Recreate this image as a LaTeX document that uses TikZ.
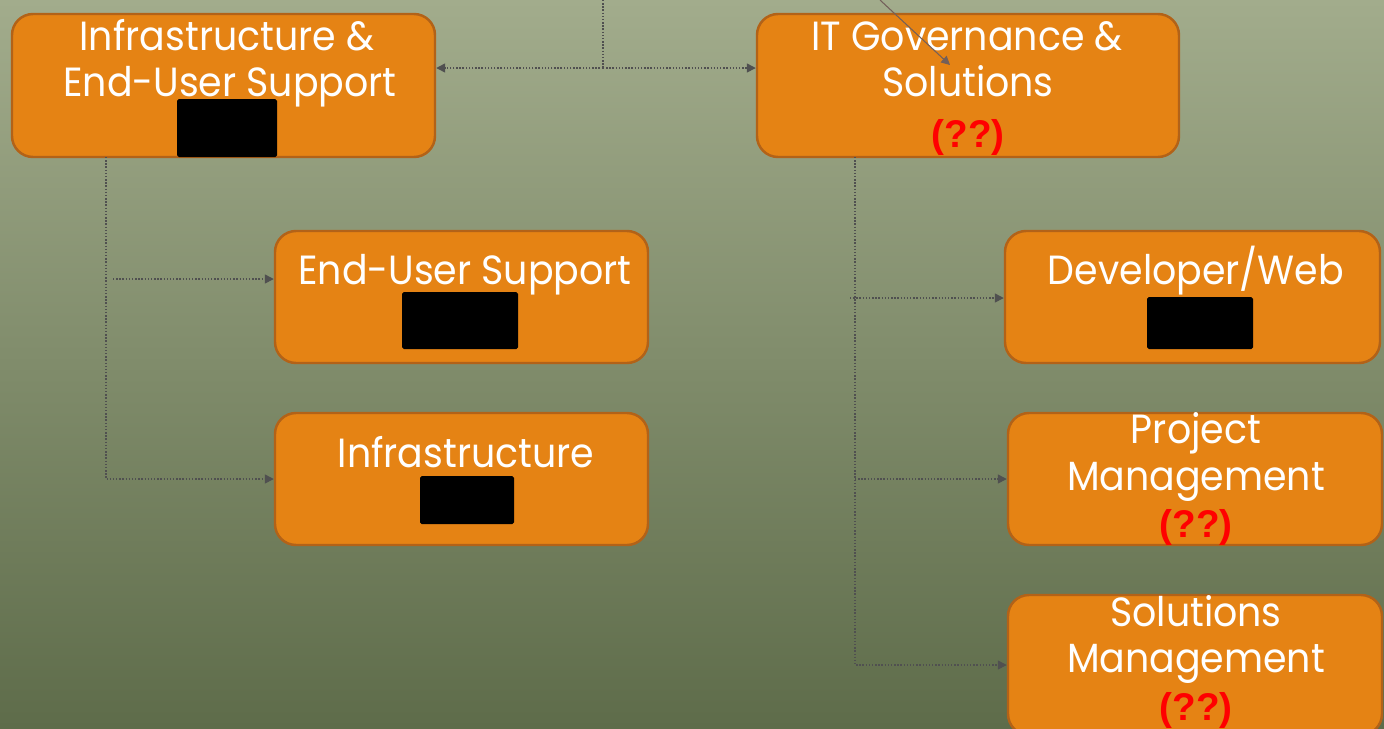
\documentclass[tikz,border=0pt]{standalone}
\usepackage{fontspec}
\setmainfont{Poppins}[FakeStretch=0.93]
\newfontfamily\redfont{Liberation Sans}
\usepackage{xcolor}
\usepackage{tikz}
\usetikzlibrary{positioning,arrows.meta}

\definecolor{bgtop}{RGB}{162,172,140}
\definecolor{bgbot}{RGB}{94,108,74}
\definecolor{boxfill}{RGB}{229,131,20}
\definecolor{boxedge}{RGB}{178,98,24}
\definecolor{linkgray}{RGB}{80,80,80}
\definecolor{diaggray}{RGB}{115,95,90}

\begin{document}
\begin{tikzpicture}[x=0.02cm, y=-0.02cm,
  orgbox/.style={draw=boxedge, fill=boxfill, line width=1.4pt, rounded corners=0.42cm, inner sep=0pt},
  hidebox/.style={fill=black, rounded corners=1pt, inner sep=0pt},
  title/.style={text=white, inner sep=0pt, anchor=base, font=\fontsize{23.2}{26}\selectfont},
  unknown/.style={text=red, inner sep=0pt, anchor=base, font=\redfont\bfseries\fontsize{22}{25}\selectfont},
  link/.style={draw=linkgray, line width=0.8pt, densely dotted, -{Triangle[length=5pt,width=5pt]}}]

\useasboundingbox (0,0) rectangle (1384,728);
\fill[top color=bgtop, bottom color=bgbot] (0,0) rectangle (1384,728);

% 
\node[orgbox, minimum width=423*0.02cm, minimum height=143*0.02cm] (iteus) at (223.5,85.5) {};
\node[orgbox, minimum width=422*0.02cm, minimum height=143*0.02cm] (itgov) at (968,85.5) {};
\node[orgbox, minimum width=373*0.02cm, minimum height=132*0.02cm] (eus) at (461.5,297) {};
\node[orgbox, minimum width=373*0.02cm, minimum height=132*0.02cm] (infra) at (461.5,479) {};
\node[orgbox, minimum width=375*0.02cm, minimum height=132*0.02cm] (dev) at (1192.5,297) {};
\node[orgbox, minimum width=374*0.02cm, minimum height=132*0.02cm] (pm) at (1195,479) {};
\node[orgbox, minimum width=374*0.02cm, minimum height=140*0.02cm] (solm) at (1195,665) {};

% 
\node[hidebox, minimum width=100*0.02cm, minimum height=58*0.02cm] (iteus-hide) at (227,128) {};
\node[hidebox, minimum width=116*0.02cm, minimum height=57*0.02cm] (eus-hide) at (460,320.5) {};
\node[hidebox, minimum width=94*0.02cm, minimum height=48*0.02cm] (infra-hide) at (467,500) {};
\node[hidebox, minimum width=106*0.02cm, minimum height=52*0.02cm] (dev-hide) at (1200,323) {};

% 
\node[title] (iteus-l1) at (227,50) {Infrastructure \&};
\node[title] (iteus-l2) at (230,96) {End-User Support};
\node[title] (itgov-l1) at (967,50) {IT Governance \&};
\node[title] (itgov-l2) at (968,96) {Solutions};
\node[unknown] (itgov-q) at (968,147) {(??)};
\node[title] (eus-l1) at (465,284) {End-User Support};
\node[title] (infra-l1) at (466,467) {Infrastructure};
\node[title] (dev-l1) at (1196,284) {Developer/Web};
\node[title] (pm-l1) at (1196,443) {Project};
\node[title] (pm-l2) at (1196,490) {Management};
\node[unknown] (pm-q) at (1196,537) {(??)};
\node[title] (solm-l1) at (1196,626) {Solutions};
\node[title] (solm-l2) at (1196,672) {Management};
\node[unknown] (solm-q) at (1196,720) {(??)};

% 
\coordinate (topin) at (603,0);
\coordinate (hub) at (603,68);
\coordinate (diagin) at (880,0);
\coordinate (diagtip) at (950,65);
\coordinate (ltop) at (106,157);
\coordinate (lbr) at (113,279);
\coordinate (rtop) at (855,157);
\coordinate (rbr) at (850,298);

% 
\draw[link, -] (topin) -- (hub);
\draw[link] (hub) -- (hub -| iteus.east);
\draw[link] (hub) -- (hub -| itgov.west);
\draw[draw=diaggray, line width=0.6pt, -{Triangle[length=5pt,width=5pt]}] (diagin) -- (diagtip);

\draw[link] (ltop) |- (infra.west);
\draw[link] (lbr) -- (lbr -| eus.west);

\draw[link] (rtop) |- (solm.west);
\draw[link] (rtop |- pm.west) -- (pm.west);
\draw[link] (rbr) -- (rbr -| dev.west);

\end{tikzpicture}
\end{document}
